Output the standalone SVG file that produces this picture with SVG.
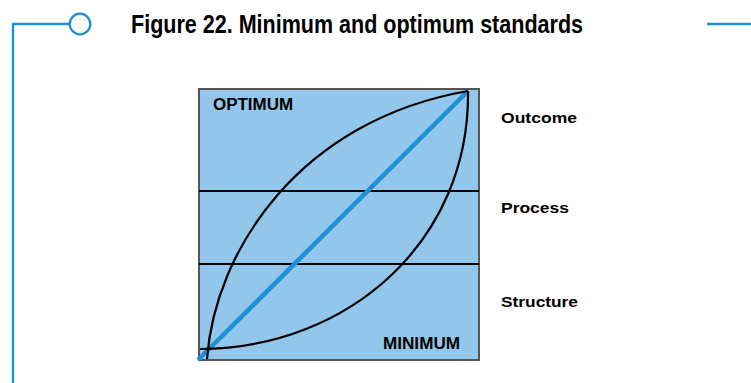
<svg xmlns="http://www.w3.org/2000/svg" width="751" height="383" viewBox="0 0 751 383">
<style>
.frame{fill:none;stroke:#1b8fd8;stroke-width:2.3}
.curve{fill:none;stroke:#000;stroke-width:2.2}
.band{stroke:#000;stroke-width:2.2}
.lbl{font-family:"Liberation Sans",Arial,sans-serif;font-weight:bold;font-size:15.5px;fill:#000}
.in{font-size:16px}
.title{font-family:"Liberation Sans",Arial,sans-serif;font-weight:bold;font-size:25px;fill:#000}
</style>
<rect width="751" height="383" fill="#fff"/>
<g id="frame">
<path class="frame" d="M13,383 V24 H69"/>
<circle class="frame" cx="80" cy="24" r="10.3" fill="#fff"/>
<path class="frame" d="M707,24 H751"/>
</g>
<text class="title" x="131" y="33" textLength="452" lengthAdjust="spacingAndGlyphs">Figure 22. Minimum and optimum standards</text>
<g id="chart">
<rect x="199" y="89" width="280" height="271" fill="#92c6ea" stroke="#555" stroke-width="2"/>
</g>
<g id="connectors">
<line class="band" x1="199" y1="191" x2="479" y2="191"/>
<line class="band" x1="199" y1="264" x2="479" y2="264"/>
<line x1="198" y1="360" x2="468" y2="91" stroke="#1b8fd8" stroke-width="4.5"/>
<path class="curve" d="M207,359 C215,250 300,120 468,91"/>
<path class="curve" d="M200,349 C350,348 470,240 468,91"/>
</g>
<g id="labels">
<text class="lbl in" x="213" y="110" textLength="80" lengthAdjust="spacingAndGlyphs">OPTIMUM</text>
<text class="lbl in" x="383" y="349" textLength="77" lengthAdjust="spacingAndGlyphs">MINIMUM</text>
<text class="lbl" x="501" y="123" textLength="76" lengthAdjust="spacingAndGlyphs">Outcome</text>
<text class="lbl" x="501" y="213" textLength="68" lengthAdjust="spacingAndGlyphs">Process</text>
<text class="lbl" x="501" y="307" textLength="77" lengthAdjust="spacingAndGlyphs">Structure</text>
</g>
</svg>
